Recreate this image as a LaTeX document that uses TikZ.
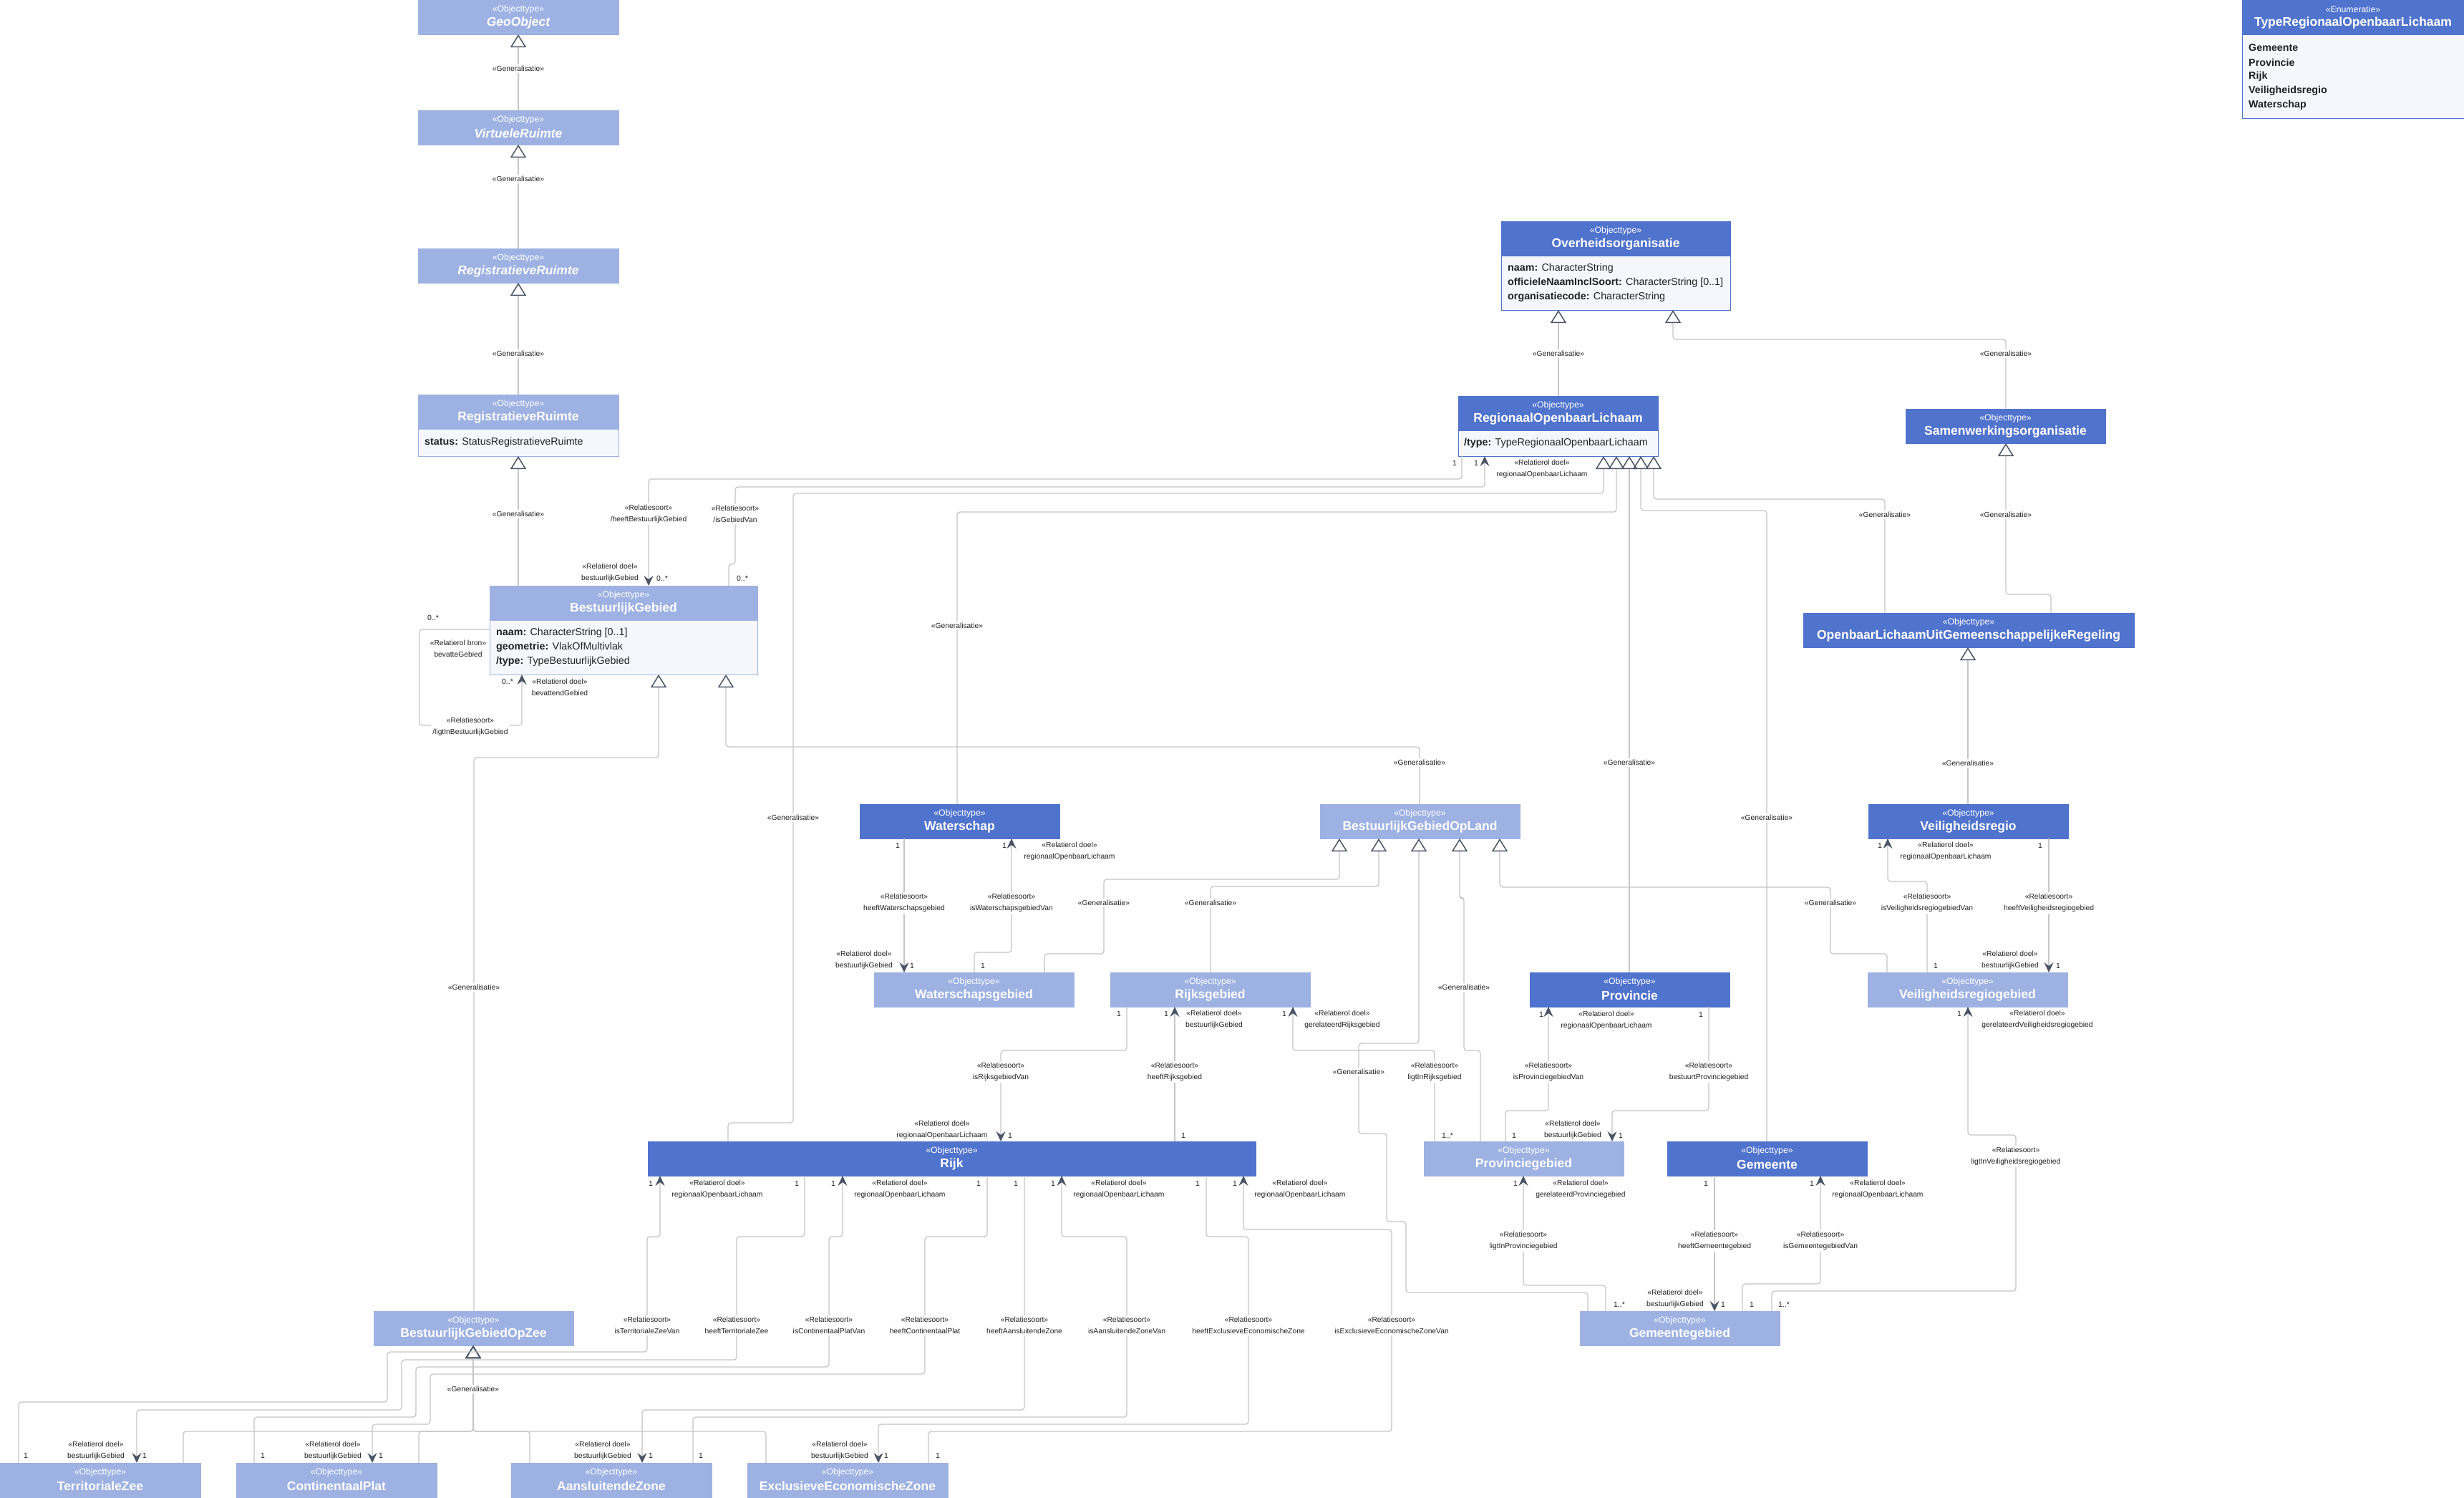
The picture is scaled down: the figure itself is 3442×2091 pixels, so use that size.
\documentclass[tikz,border=0pt]{standalone}
\usepackage{fontspec}
\setmainfont{Liberation Sans}
\usetikzlibrary{arrows.meta,calc}
\definecolor{dkb}{HTML}{5073CD}
\definecolor{ltb}{HTML}{9EB1E3}
\definecolor{attrbg}{HTML}{F5F7FC}
\definecolor{linec}{HTML}{C6C6C6}
\definecolor{tipc}{HTML}{4A5466}
\definecolor{txtc}{HTML}{222222}
\tikzset{
 hdr/.style={fill=#1, draw=#1, line width=1pt, anchor=north west, minimum height=48pt, inner sep=0pt, outer sep=0pt},
 att/.style={fill=attrbg, draw=#1, line width=1pt, anchor=north west, inner sep=0pt, outer sep=0pt},
 stereo/.style={text=white, font=\fontsize{12.3}{14}\selectfont, inner sep=0pt},
 ttl/.style={text=white, font=\fontsize{17.5}{20}\selectfont\bfseries, inner sep=0pt},
 attrtxt/.style={anchor=west, text=txtc, font=\fontsize{14.3}{16}\selectfont, inner sep=0pt},
 conn/.style={draw=linec, line width=1.3pt, rounded corners=4pt},
 genl/.style={conn, -{Triangle[open,length=18pt,width=22pt,color=tipc,line width=1.5pt]}},
 assoc/.style={conn, -{Stealth[length=14pt,width=13pt,inset=5pt,color=tipc]}},
 lbl/.style={fill=white, text=txtc, font=\fontsize{10.3}{16}\selectfont, align=center, inner sep=2pt},
 role/.style={text=txtc, font=\fontsize{10.3}{16}\selectfont, align=center, inner sep=0pt},
 mult/.style={text=txtc, font=\fontsize{10.5}{12}\selectfont, inner sep=0pt},
}
\newcommand\mkbox[7]{%
 \node[hdr=#5, minimum width=#4pt] (#1) at (#2,#3) {};
 \node[stereo] at ($(#1.north)+(0,13)$) {#6};
 \node[ttl] at ($(#1.north)+(0,32)$) {#7};
}
\newcommand\gentxt{«Generalisatie»}
\newcommand\rs{«Relatiesoort»\\}
\newcommand\rd{«Relatierol doel»\\}
\begin{document}
\begin{tikzpicture}[x=1pt,y=-1pt]
\useasboundingbox (0,0) rectangle (3442,2091);
\fill[white] (0,0) rectangle (3442,2091);

% ---------- boxes ----------
\mkbox{GO}{584}{0}{280}{ltb}{«Objecttype»}{\itshape GeoObject}
\mkbox{VR}{584}{154}{280}{ltb}{«Objecttype»}{\itshape VirtueleRuimte}
\mkbox{RRi}{584}{347}{280}{ltb}{«Objecttype»}{\itshape RegistratieveRuimte}
\mkbox{RR}{584}{551}{280}{ltb}{«Objecttype»}{RegistratieveRuimte}
\node[att=ltb, minimum width=280pt, minimum height=38pt] (RRa) at (584,599) {};
\node[attrtxt] at (593,618) {\textbf{status:} StatusRegistratieveRuimte};

\mkbox{BG}{684}{818}{374}{ltb}{«Objecttype»}{BestuurlijkGebied}
\node[att=ltb, minimum width=374pt, minimum height=76pt] (BGa) at (684,866) {};
\node[attrtxt] at (693,884) {\textbf{naam:} CharacterString [0..1]};
\node[attrtxt] at (693,904) {\textbf{geometrie:} VlakOfMultivlak};
\node[attrtxt] at (693,924) {\textbf{/type:} TypeBestuurlijkGebied};

\mkbox{OV}{2097}{309}{320}{dkb}{«Objecttype»}{Overheidsorganisatie}
\node[att=dkb, minimum width=320pt, minimum height=76pt] (OVa) at (2097,357) {};
\node[attrtxt] at (2106,375) {\textbf{naam:} CharacterString};
\node[attrtxt] at (2106,395) {\textbf{officieleNaamInclSoort:} CharacterString [0..1]};
\node[attrtxt] at (2106,415) {\textbf{organisatiecode:} CharacterString};

\mkbox{ROL}{2037}{553}{279}{dkb}{«Objecttype»}{RegionaalOpenbaarLichaam}
\node[att=dkb, minimum width=279pt, minimum height=36pt] (ROLa) at (2037,601) {};
\node[attrtxt] at (2045,619) {\textbf{/type:} TypeRegionaalOpenbaarLichaam};

\mkbox{SW}{2662}{571}{279}{dkb}{«Objecttype»}{Samenwerkingsorganisatie}
\mkbox{OL}{2519}{856}{462}{dkb}{«Objecttype»}{OpenbaarLichaamUitGemeenschappelijkeRegeling}

\mkbox{EN}{3132}{0}{310}{dkb}{«Enumeratie»}{TypeRegionaalOpenbaarLichaam}
\node[att=dkb, minimum width=310pt, minimum height=117pt] (ENa) at (3132,48) {};
\node[attrtxt] at (3141,67) {\textbf{Gemeente}};
\node[attrtxt] at (3141,87) {\textbf{Provincie}};
\node[attrtxt] at (3141,107) {\textbf{Rijk}};
\node[attrtxt] at (3141,127) {\textbf{Veiligheidsregio}};
\node[attrtxt] at (3141,147) {\textbf{Waterschap}};

\mkbox{WS}{1201}{1123}{279}{dkb}{«Objecttype»}{Waterschap}
\mkbox{BGL}{1844}{1123}{279}{ltb}{«Objecttype»}{BestuurlijkGebiedOpLand}
\mkbox{VRG}{2610}{1123}{279}{dkb}{«Objecttype»}{Veiligheidsregio}
\mkbox{WSG}{1221}{1358}{279}{ltb}{«Objecttype»}{Waterschapsgebied}
\mkbox{RG}{1551}{1358}{279}{ltb}{«Objecttype»}{Rijksgebied}
\mkbox{PR}{2137}{1358}{279}{dkb}{«Objecttype»}{Provincie}
\mkbox{VG}{2609}{1358}{279}{ltb}{«Objecttype»}{Veiligheidsregiogebied}
\mkbox{RK}{905}{1594}{849}{dkb}{«Objecttype»}{Rijk}
\mkbox{PG}{1989}{1594}{279}{ltb}{«Objecttype»}{Provinciegebied}
\mkbox{GM}{2329}{1594}{279}{dkb}{«Objecttype»}{Gemeente}
\mkbox{BGZ}{522}{1831}{279}{ltb}{«Objecttype»}{BestuurlijkGebiedOpZee}
\mkbox{GG}{2207}{1831}{279}{ltb}{«Objecttype»}{Gemeentegebied}
\mkbox{TZ}{0}{2043}{280}{ltb}{«Objecttype»}{TerritorialeZee}
\mkbox{CP}{330}{2043}{280}{ltb}{«Objecttype»}{ContinentaalPlat}
\mkbox{AZ}{714}{2043}{280}{ltb}{«Objecttype»}{AansluitendeZone}
\mkbox{EZ}{1044}{2043}{280}{ltb}{«Objecttype»}{ExclusieveEconomischeZone}

% ---------- generalisations ----------
\draw[genl] (724,0 |- VR.north) -- (724,0 |- GO.south);
\draw[genl] (724,0 |- RRi.north) -- (724,0 |- VR.south);
\draw[genl] (724,0 |- RR.north) -- (724,0 |- RRi.south);
\draw[genl] (724,0 |- BG.north) -- (724,0 |- RRa.south);
\draw[genl] (2177,0 |- ROL.north) -- (2177,0 |- OVa.south);
\draw[genl] (2802,0 |- SW.north) -- (2802,474) -- (2337,474) -- (2337,0 |- OVa.south);
\draw[genl] (2865,0 |- OL.north) -- (2865,830) -- (2802,830) -- (2802,0 |- SW.south);
\draw[genl] (2633,0 |- OL.north) -- (2633,697) -- (2310,697) -- (2310,0 |- ROLa.south);
\draw[genl] (1337,0 |- WS.north) -- (1337,715) -- (2258,715) -- (2258,0 |- ROLa.south);
\draw[genl] (1017,0 |- RK.north) -- (1017,1568) -- (1108,1568) -- (1108,689) -- (2240,689) -- (2240,0 |- ROLa.south);
\draw[genl] (2276,0 |- PR.north) -- (2276,0 |- ROLa.south);
\draw[genl] (2468,0 |- GM.north) -- (2468,713) -- (2292,713) -- (2292,0 |- ROLa.south);
\draw[genl] (2749,0 |- VRG.north) -- (2749,0 |- OL.south);
\draw[genl] (1983,0 |- BGL.north) -- (1983,1043) -- (1014,1043) -- (1014,0 |- BGa.south);
\draw[genl] (662,0 |- BGZ.north) -- (662,1058) -- (920,1058) -- (920,0 |- BGa.south);
\draw[genl] (1459,0 |- WSG.north) -- (1459,1332) -- (1542,1332) -- (1542,1228) -- (1871,1228) -- (1871,0 |- BGL.south);
\draw[genl] (1691,0 |- RG.north) -- (1691,1238) -- (1926,1238) -- (1926,0 |- BGL.south);
\draw[genl] (2218,0 |- GG.north) -- (2218,1805) -- (1964,1805) -- (1964,1706) -- (1937,1706) -- (1937,1583) -- (1898,1583) -- (1898,1457) -- (1982,1457) -- (1982,0 |- BGL.south);
\draw[genl] (2068,0 |- PG.north) -- (2068,1467) -- (2045,1467) -- (2045,1254) -- (2039,1254) -- (2039,0 |- BGL.south);
\draw[genl] (2636,0 |- VG.north) -- (2636,1332) -- (2557,1332) -- (2557,1239) -- (2095,1239) -- (2095,0 |- BGL.south);
\draw[genl] (256,0 |- TZ.north) -- (256,1999) -- (661,1999) -- (661,0 |- BGZ.south);
\draw[genl] (585,0 |- CP.north) -- (585,1999) -- (661,1999) -- (661,0 |- BGZ.south);
\draw[genl] (740,0 |- AZ.north) -- (740,1999) -- (661,1999) -- (661,0 |- BGZ.south);
\draw[genl] (1070,0 |- EZ.north) -- (1070,1999) -- (661,1999) -- (661,0 |- BGZ.south);

% ---------- associations ----------
\draw[assoc] (2042,0 |- ROLa.south) -- (2042,669) -- (906,669) -- (906,0 |- BG.north);
\draw[assoc] (1018,0 |- BG.north) -- (1018,788) -- (1027,788) -- (1027,680) -- (2074,680) -- (2074,0 |- ROLa.south);
\draw[assoc] (BGa.west |- 0,879) -- (586,879) -- (586,1013) -- (729,1013) -- (729,0 |- BGa.south);
\draw[assoc] (1263,0 |- WS.south) -- (1263,0 |- WSG.north);
\draw[assoc] (1361,0 |- WSG.north) -- (1361,1330) -- (1413,1330) -- (1413,0 |- WS.south);
\draw[assoc] (2862,0 |- VRG.south) -- (2862,0 |- VG.north);
\draw[assoc] (2692,0 |- VG.north) -- (2692,1231) -- (2637,1231) -- (2637,0 |- VRG.south);
\draw[assoc] (1574,0 |- RG.south) -- (1574,1467) -- (1398,1467) -- (1398,0 |- RK.north);
\draw[assoc] (1641,0 |- RK.north) -- (1641,0 |- RG.south);
\draw[assoc] (2004,0 |- PG.north) -- (2004,1467) -- (1806,1467) -- (1806,0 |- RG.south);
\draw[assoc] (2103,0 |- PG.north) -- (2103,1551) -- (2163,1551) -- (2163,0 |- PR.south);
\draw[assoc] (2387,0 |- PR.south) -- (2387,1551) -- (2252,1551) -- (2252,0 |- PG.north);
\draw[assoc] (2395,0 |- GM.south) -- (2395,0 |- GG.north);
\draw[assoc] (2434,0 |- GG.north) -- (2434,1793) -- (2543,1793) -- (2543,0 |- GM.south);
\draw[assoc] (2243,0 |- GG.north) -- (2243,1795) -- (2128,1795) -- (2128,0 |- PG.south);
\draw[assoc] (2475,0 |- GG.north) -- (2475,1803) -- (2816,1803) -- (2816,1585) -- (2749,1585) -- (2749,0 |- VG.south);
\draw[assoc] (26,0 |- TZ.north) -- (26,1958) -- (541,1958) -- (541,1888) -- (904,1888) -- (904,1727) -- (922,1727) -- (922,0 |- RK.south);
\draw[assoc] (1124,0 |- RK.south) -- (1124,1727) -- (1029,1727) -- (1029,1899) -- (561,1899) -- (561,1969) -- (191,1969) -- (191,0 |- TZ.north);
\draw[assoc] (355,0 |- CP.north) -- (355,1979) -- (581,1979) -- (581,1909) -- (1158,1909) -- (1158,1727) -- (1177,1727) -- (1177,0 |- RK.south);
\draw[assoc] (1379,0 |- RK.south) -- (1379,1727) -- (1292,1727) -- (1292,1919) -- (601,1919) -- (601,1989) -- (520,1989) -- (520,0 |- CP.north);
\draw[assoc] (1431,0 |- RK.south) -- (1431,1969) -- (897,1969) -- (897,0 |- AZ.north);
\draw[assoc] (968,0 |- AZ.north) -- (968,1979) -- (1574,1979) -- (1574,1727) -- (1483,1727) -- (1483,0 |- RK.south);
\draw[assoc] (1685,0 |- RK.south) -- (1685,1727) -- (1744,1727) -- (1744,1989) -- (1227,1989) -- (1227,0 |- EZ.north);
\draw[assoc] (1297,0 |- EZ.north) -- (1297,1999) -- (1944,1999) -- (1944,1717) -- (1737,1717) -- (1737,0 |- RK.south);

% ---------- generalisation labels ----------
\foreach \p in {(724,96),(724,250),(724,494),(724,718),(2177,494),(2802,494),(2802,719),(2633,719),(1337,874),(1108,1142),(2276,1065),(2468,1142),(2749,1066),(1983,1065),(662,1379),(1542,1261),(1691,1261),(1898,1497),(2045,1379),(2557,1261),(661,1940)}
  \node[lbl] at \p {\gentxt};

% ---------- relation labels ----------
\node[lbl] at (906,718) {\rs /heeftBestuurlijkGebied};
\node[lbl] at (1027,718) {\rs /isGebiedVan};
\node[lbl] at (657,1015) {\rs /ligtInBestuurlijkGebied};
\node[lbl] at (1263,1261) {\rs heeftWaterschapsgebied};
\node[lbl] at (1413,1261) {\rs isWaterschapsgebiedVan};
\node[lbl] at (2862,1261) {\rs heeftVeiligheidsregiogebied};
\node[lbl] at (2692,1261) {\rs isVeiligheidsregiogebiedVan};
\node[lbl] at (1398,1497) {\rs isRijksgebiedVan};
\node[lbl] at (1641,1497) {\rs heeftRijksgebied};
\node[lbl] at (2004,1497) {\rs ligtInRijksgebied};
\node[lbl] at (2163,1497) {\rs isProvinciegebiedVan};
\node[lbl] at (2387,1497) {\rs bestuurtProvinciegebied};
\node[lbl] at (2128,1733) {\rs ligtInProvinciegebied};
\node[lbl] at (2395,1733) {\rs heeftGemeentegebied};
\node[lbl] at (2543,1733) {\rs isGemeentegebiedVan};
\node[lbl] at (2816,1615) {\rs ligtInVeiligheidsregiogebied};
\node[lbl] at (904,1851) {\rs isTerritorialeZeeVan};
\node[lbl] at (1029,1851) {\rs heeftTerritorialeZee};
\node[lbl] at (1158,1851) {\rs isContinentaalPlatVan};
\node[lbl] at (1292,1851) {\rs heeftContinentaalPlat};
\node[lbl] at (1431,1851) {\rs heeftAansluitendeZone};
\node[lbl] at (1574,1851) {\rs isAansluitendeZoneVan};
\node[lbl] at (1744,1851) {\rs heeftExclusieveEconomischeZone};
\node[lbl] at (1944,1851) {\rs isExclusieveEconomischeZoneVan};

% ---------- role labels ----------
\node[role] at (852,800) {\rd bestuurlijkGebied};
\node[role] at (2154,655) {\rd regionaalOpenbaarLichaam};
\node[role] at (640,906) {«Relatierol bron»\\bevatteGebied};
\node[role] at (782,960) {\rd bevattendGebied};
\node[role] at (1207,1341) {\rd bestuurlijkGebied};
\node[role] at (1494,1189) {\rd regionaalOpenbaarLichaam};
\node[role] at (2718,1189) {\rd regionaalOpenbaarLichaam};
\node[role] at (2808,1341) {\rd bestuurlijkGebied};
\node[role] at (1696,1424) {\rd bestuurlijkGebied};
\node[role] at (1875,1424) {\rd gerelateerdRijksgebied};
\node[role] at (2244,1425) {\rd regionaalOpenbaarLichaam};
\node[role] at (2846,1424) {\rd gerelateerdVeiligheidsregiogebied};
\node[role] at (1316,1578) {\rd regionaalOpenbaarLichaam};
\node[role] at (2197,1578) {\rd bestuurlijkGebied};
\node[role] at (2208,1661) {\rd gerelateerdProvinciegebied};
\node[role] at (2623,1661) {\rd regionaalOpenbaarLichaam};
\node[role] at (2340,1814) {\rd bestuurlijkGebied};
\node[role] at (1002,1661) {\rd regionaalOpenbaarLichaam};
\node[role] at (1257,1661) {\rd regionaalOpenbaarLichaam};
\node[role] at (1563,1661) {\rd regionaalOpenbaarLichaam};
\node[role] at (1816,1661) {\rd regionaalOpenbaarLichaam};
\node[role] at (134,2026) {\rd bestuurlijkGebied};
\node[role] at (465,2026) {\rd bestuurlijkGebied};
\node[role] at (842,2026) {\rd bestuurlijkGebied};
\node[role] at (1173,2026) {\rd bestuurlijkGebied};

% ---------- multiplicities ----------
\foreach \p in {(2032,647),(2062,647),(1254,1181),(1403,1181),(1274,1349),(1373,1349),(2626,1181),(2850,1181),(2704,1349),(2875,1349),(1563,1416),(1629,1416),(1794,1416),(2153,1417),(2376,1417),(2737,1416),(1411,1586),(1653,1586),(2115,1586),(2264,1586),(2117,1653),(2383,1653),(2531,1653),(2407,1822),(2447,1822),(909,1653),(1113,1653),(1164,1653),(1367,1653),(1419,1653),(1471,1653),(1673,1653),(1725,1653),(36,2033),(202,2033),(367,2033),(532,2033),(909,2033),(979,2033),(1238,2033),(1310,2033)}
  \node[mult] at \p {1};
\foreach \p in {(925,808),(1037,808),(605,863),(709,952)}
  \node[mult] at \p {0..*};
\foreach \p in {(2022,1586),(2262,1822),(2492,1822)}
  \node[mult] at \p {1..*};
\end{tikzpicture}
\end{document}
